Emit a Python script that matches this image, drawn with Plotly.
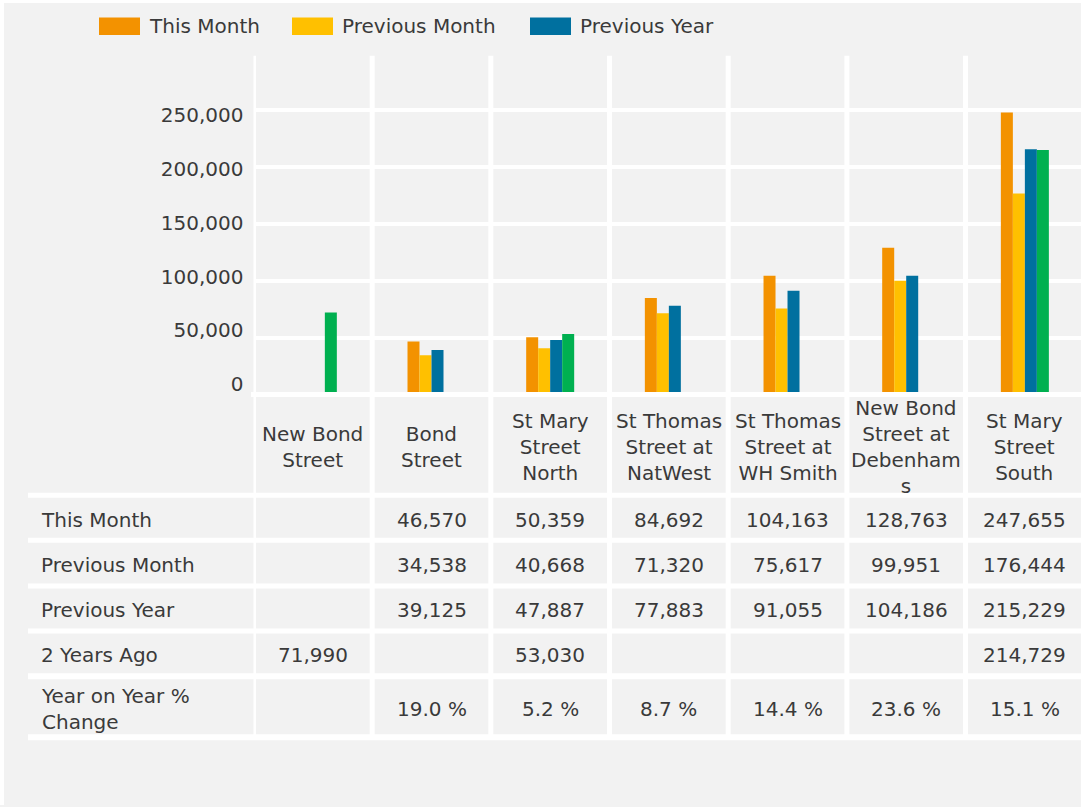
import plotly.graph_objects as go

# ---------------- data ----------------
categories = [
    "New Bond Street",
    "Bond Street",
    "St Mary Street North",
    "St Thomas Street at NatWest",
    "St Thomas Street at WH Smith",
    "New Bond Street at Debenhams",
    "St Mary Street South",
]
tick_labels = [
    "New Bond<br>Street",
    "Bond<br>Street",
    "St Mary<br>Street<br>North",
    "St Thomas<br>Street at<br>NatWest",
    "St Thomas<br>Street at<br>WH Smith",
    "New Bond<br>Street at<br>Debenham<br>s",
    "St Mary<br>Street<br>South",
]
this_month = [None, 46570, 50359, 84692, 104163, 128763, 247655]
previous_month = [None, 34538, 40668, 71320, 75617, 99951, 176444]
previous_year = [None, 39125, 47887, 77883, 91055, 104186, 215229]
two_years_ago = [71990, None, 53030, None, None, None, 214729]
yoy_change = [None, 19.0, 5.2, 8.7, 14.4, 23.6, 15.1]

series_names = ["This Month", "Previous Month", "Previous Year", "2 Years Ago"]
row_labels = ["This Month", "Previous Month", "Previous Year", "2 Years Ago", "Year on Year %<br>Change"]
y_tick_values = [0, 50000, 100000, 150000, 200000, 250000]
y_tick_labels = ["0", "50,000", "100,000", "150,000", "200,000", "250,000"]

# ---------------- style ----------------
W, H = 1081, 807
FONT = "DejaVu Sans"
FSIZE = 20
TEXT = "#3a3a3a"
GREY = "#f2f2f2"
colors = ["#F39200", "#FFC000", "#00709F", "#00B050"]


def px_x(p):
    return p / W


def px_y(p):
    return 1 - p / H


series_values = [this_month, previous_month, previous_year, two_years_ago]

fig = go.Figure()
for name, vals, col in zip(series_names, series_values, colors):
    fig.add_trace(go.Bar(
        x=categories, y=vals, name=name,
        marker=dict(color=col, line=dict(width=0)),
        showlegend=False,
    ))
# carrier trace for the label axis
fig.add_trace(go.Scatter(x=categories, y=[None] * len(categories), yaxis="y2",
                         mode="markers", showlegend=False, hoverinfo="skip"))

plot_left = 253.5
plot_top, plot_bottom = 56, 395.5

shapes = []
# white outer strips
shapes.append(dict(type="rect", xref="paper", yref="paper", x0=0, x1=px_x(4), y0=0, y1=1,
                   fillcolor="white", line=dict(width=0), layer="above"))
shapes.append(dict(type="rect", xref="paper", yref="paper", x0=0, x1=1, y0=px_y(3), y1=1,
                   fillcolor="white", line=dict(width=0), layer="above"))
# vertical column separators
for i in range(len(categories)):
    shapes.append(dict(type="line", xref="x", yref="paper", x0=i - 0.5, x1=i - 0.5,
                       y0=px_y(plot_top), y1=px_y(739), line=dict(color="white", width=5)))
# zero band under the plot
shapes.append(dict(type="rect", xref="paper", yref="paper", x0=px_x(251), x1=1,
                   y0=px_y(398), y1=px_y(393), fillcolor="white", line=dict(width=0)))
# table row gaps
for a, b in [(494, 499), (539, 544), (585, 590), (630, 635), (675, 681), (736, 742)]:
    shapes.append(dict(type="rect", xref="paper", yref="paper", x0=px_x(28), x1=1,
                       y0=px_y(b), y1=px_y(a), fillcolor="white", line=dict(width=0)))

annotations = []
font = dict(family=FONT, size=FSIZE, color=TEXT)

# legend (first three series)
legend_x = [99, 292, 530]
for name, col, lx in zip(series_names[:3], colors[:3], legend_x):
    shapes.append(dict(type="rect", xref="paper", yref="paper", x0=px_x(lx), x1=px_x(lx + 41),
                       y0=px_y(35), y1=px_y(17.5), fillcolor=col, line=dict(width=0)))
    annotations.append(dict(xref="paper", yref="paper", x=px_x(lx + 48), y=px_y(26), text=name,
                            showarrow=False, xanchor="left", yanchor="middle", font=font))

# header row (category names)
for cat, lab in zip(categories, tick_labels):
    annotations.append(dict(xref="x", yref="paper", x=cat, y=px_y(448), text=lab, showarrow=False,
                            xanchor="center", yanchor="middle", align="center", font=font))

row_centers = [521, 566.5, 612, 657, 710.5]
for lab, yc in zip(row_labels, row_centers):
    annotations.append(dict(xref="paper", yref="paper", x=px_x(39), y=px_y(yc), text=lab,
                            showarrow=False, xanchor="left", yanchor="middle", align="left", font=font))

for vals, yc in zip(series_values, row_centers[:4]):
    for cat, v in zip(categories, vals):
        if v is not None:
            annotations.append(dict(xref="x", yref="paper", x=cat, y=px_y(yc), text=f"{v:,}",
                                    showarrow=False, xanchor="center", yanchor="middle", font=font))
for cat, v in zip(categories, yoy_change):
    if v is not None:
        annotations.append(dict(xref="x", yref="paper", x=cat, y=px_y(row_centers[4]), text=f"{v:.1f} %",
                                showarrow=False, xanchor="center", yanchor="middle", font=font))

ydom = [px_y(plot_bottom), px_y(plot_top)]
fig.update_layout(
    width=W, height=H,
    margin=dict(l=0, r=0, t=0, b=0, pad=0),
    paper_bgcolor=GREY, plot_bgcolor=GREY,
    barmode="group", bargap=0.5955, bargroupgap=0,
    showlegend=False,
    font=font,
    xaxis=dict(type="category", categoryorder="array", categoryarray=categories,
               range=[-0.5, 6.473], domain=[px_x(plot_left), 1],
               showticklabels=False, showgrid=False, zeroline=False, showline=False, ticks=""),
    yaxis=dict(domain=ydom, range=[0, 297300], tickvals=y_tick_values, showticklabels=False,
               showgrid=True, gridcolor="white", gridwidth=3.5, zeroline=False, showline=False, ticks=""),
    yaxis2=dict(overlaying="y", anchor="x", side="left", range=[-9740, 305200],
                tickvals=y_tick_values, ticktext=y_tick_labels, showgrid=False, zeroline=False,
                showline=False, ticks="", ticklabelstandoff=9,
                tickfont=dict(family=FONT, size=FSIZE, color=TEXT)),
    shapes=shapes,
    annotations=annotations,
)

fig.write_html(
    "out.html",
    config={"displayModeBar": False},
    post_script="document.body.style.margin='0';document.body.style.overflow='hidden';",
)
